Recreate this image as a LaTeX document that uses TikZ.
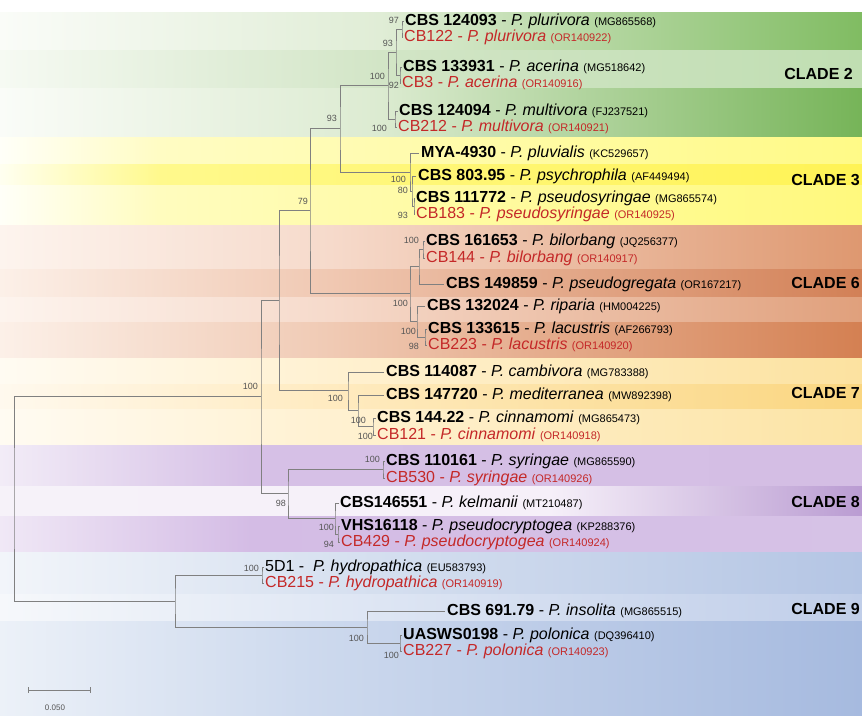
\documentclass[tikz,border=0pt]{standalone}
\usepackage{fontspec}
\setmainfont{Liberation Sans}
\definecolor{cbred}{RGB}{196,40,40}
\definecolor{treeg}{RGB}{128,128,128}
\definecolor{bsg}{RGB}{85,85,85}
% band colours
\definecolor{G1L}{RGB}{250,252,248}\definecolor{G1M}{RGB}{224,237,214}\definecolor{G1R}{RGB}{128,188,98}
\definecolor{G2L}{RGB}{246,250,243}\definecolor{G2M}{RGB}{210,229,198}\definecolor{G2R}{RGB}{192,222,178}
\definecolor{G3L}{RGB}{250,252,248}\definecolor{G3M}{RGB}{220,235,209}\definecolor{G3R}{RGB}{118,180,88}
\definecolor{Y1L}{RGB}{255,255,248}\definecolor{Y1M}{RGB}{255,252,195}\definecolor{Y1R}{RGB}{255,250,135}
\definecolor{Y2L}{RGB}{255,255,240}\definecolor{Y2M}{RGB}{255,249,140}\definecolor{Y2R}{RGB}{255,243,85}
\definecolor{Y3L}{RGB}{255,255,248}\definecolor{Y3M}{RGB}{255,252,190}\definecolor{Y3R}{RGB}{255,249,125}
\definecolor{O1L}{RGB}{253,244,238}\definecolor{O1M}{RGB}{246,218,203}\definecolor{O1R}{RGB}{222,152,112}
\definecolor{O2L}{RGB}{252,240,232}\definecolor{O2M}{RGB}{240,200,178}\definecolor{O2R}{RGB}{210,128,86}
\definecolor{O3L}{RGB}{253,244,238}\definecolor{O3M}{RGB}{246,218,203}\definecolor{O3R}{RGB}{224,160,124}
\definecolor{O4L}{RGB}{252,240,232}\definecolor{O4M}{RGB}{240,202,180}\definecolor{O4R}{RGB}{212,128,82}
\definecolor{S1L}{RGB}{255,251,242}\definecolor{S1M}{RGB}{255,242,212}\definecolor{S1R}{RGB}{252,226,160}
\definecolor{S2L}{RGB}{255,249,238}\definecolor{S2M}{RGB}{255,236,196}\definecolor{S2R}{RGB}{250,214,128}
\definecolor{S3L}{RGB}{255,251,242}\definecolor{S3M}{RGB}{255,242,212}\definecolor{S3R}{RGB}{252,228,165}
\definecolor{P1L}{RGB}{242,236,247}\definecolor{P1M}{RGB}{214,192,230}\definecolor{P1R}{RGB}{212,190,228}
\definecolor{P2L}{RGB}{246,242,249}\definecolor{P2M}{RGB}{246,240,249}\definecolor{P2R}{RGB}{186,156,210}
\definecolor{P3L}{RGB}{240,232,246}\definecolor{P3M}{RGB}{212,188,229}\definecolor{P3R}{RGB}{214,194,230}
\definecolor{B1L}{RGB}{242,245,250}\definecolor{B1M}{RGB}{218,227,241}\definecolor{B1R}{RGB}{180,197,228}
\definecolor{B2L}{RGB}{246,248,251}\definecolor{B2M}{RGB}{226,233,245}\definecolor{B2R}{RGB}{192,206,233}
\definecolor{B3L}{RGB}{236,241,248}\definecolor{B3M}{RGB}{206,218,238}\definecolor{B3R}{RGB}{166,186,223}
\newcommand{\accfont}{\fontsize{11}{12}\selectfont}
\newcommand{\taxb}[3]{\textbf{#1} - \textit{#2} {\accfont(#3)}}
\newcommand{\taxr}[3]{\textcolor{cbred}{#1 - \textit{#2} {\accfont(#3)}}}
\newcommand{\bandrow}[6]{%
  \shade[left color=#3,right color=#5] (0,#1) rectangle (#4+1,#2);
  \shade[left color=#5,right color=#6] (#4,#1) rectangle (862,#2);}
\begin{document}
\begin{tikzpicture}[x=1pt,y=-1pt,
  tip/.style={anchor=west,inner sep=0pt,font=\fontsize{16}{18}\selectfont,text height=12pt,text depth=4pt},
  bs/.style={anchor=east,inner sep=0pt,font=\fontsize{9}{10}\selectfont,text=bsg},
  clade/.style={anchor=east,inner sep=0pt,font=\bfseries\fontsize{16}{18}\selectfont},
  br/.style={draw=treeg,line width=0.9pt}]
\clip (0,0) rectangle (862,715);
\fill[white] (0,0) rectangle (862,715);
% ---- background bands
\bandrow{12}{50}{G1L}{380}{G1M}{G1R}
\bandrow{50}{88}{G2L}{380}{G2M}{G2R}
\bandrow{88}{137}{G3L}{380}{G3M}{G3R}
\bandrow{137}{164}{Y1L}{160}{Y1M}{Y1R}
\bandrow{164}{185}{Y2L}{160}{Y2M}{Y2R}
\bandrow{185}{225}{Y3L}{160}{Y3M}{Y3R}
\bandrow{225}{269}{O1L}{330}{O1M}{O1R}
\bandrow{269}{297}{O2L}{330}{O2M}{O2R}
\bandrow{297}{322}{O3L}{330}{O3M}{O3R}
\bandrow{322}{358}{O4L}{330}{O4M}{O4R}
\bandrow{358}{384}{S1L}{300}{S1M}{S1R}
\bandrow{384}{409}{S2L}{300}{S2M}{S2R}
\bandrow{409}{445}{S3L}{300}{S3M}{S3R}
\bandrow{445}{486}{P1L}{250}{P1M}{P1R}
\bandrow{486}{516}{P2L}{550}{P2M}{P2R}
\bandrow{516}{552}{P3L}{250}{P3M}{P3R}
\bandrow{552}{594}{B1L}{300}{B1M}{B1R}
\bandrow{594}{621}{B2L}{300}{B2M}{B2R}
\bandrow{621}{715}{B3L}{300}{B3M}{B3R}
% ---- tips
\node[tip] (t1) at (405,21) {\taxb{CBS 124093}{P. plurivora}{MG865568}};
\node[tip] (t2) at (404,37) {\taxr{CB122}{P. plurivora}{OR140922}};
\node[tip] (t3) at (403,67) {\taxb{CBS 133931}{P. acerina}{MG518642}};
\node[tip] (t4) at (402,83) {\taxr{CB3}{P. acerina}{OR140916}};
\node[tip] (t5) at (399,111) {\taxb{CBS 124094}{P. multivora}{FJ237521}};
\node[tip] (t6) at (398,127) {\taxr{CB212}{P. multivora}{OR140921}};
\node[tip] (t7) at (421,153) {\taxb{MYA-4930}{P. pluvialis}{KC529657}};
\node[tip] (t8) at (418,176) {\taxb{CBS 803.95}{P. psychrophila}{AF449494}};
\node[tip] (t9) at (416,198) {\taxb{CBS 111772}{P. pseudosyringae}{MG865574}};
\node[tip] (t10) at (416,214) {\taxr{CB183}{P. pseudosyringae}{OR140925}};
\node[tip] (t11) at (426,241) {\taxb{CBS 161653}{P. bilorbang}{JQ256377}};
\node[tip] (t12) at (426,258) {\taxr{CB144}{P. bilorbang}{OR140917}};
\node[tip] (t13) at (446,284) {\taxb{CBS 149859}{P. pseudogregata}{OR167217}};
\node[tip] (t14) at (427,306) {\taxb{CBS 132024}{P. riparia}{HM004225}};
\node[tip] (t15) at (428,329) {\taxb{CBS 133615}{P. lacustris}{AF266793}};
\node[tip] (t16) at (428,345) {\taxr{CB223}{P. lacustris}{OR140920}};
\node[tip] (t17) at (386,372) {\taxb{CBS 114087}{P. cambivora}{MG783388}};
\node[tip] (t18) at (386,395) {\taxb{CBS 147720}{P. mediterranea}{MW892398}};
\node[tip] (t19) at (377,418) {\taxb{CBS 144.22}{P. cinnamomi}{MG865473}};
\node[tip] (t20) at (377,435) {\taxr{CB121}{P. cinnamomi}{OR140918}};
\node[tip] (t21) at (386,461) {\taxb{CBS 110161}{P. syringae}{MG865590}};
\node[tip] (t22) at (386,478) {\taxr{CB530}{P. syringae}{OR140926}};
\node[tip] (t23) at (340,503) {\taxb{CBS146551}{P. kelmanii}{MT210487}};
\node[tip] (t24) at (341,526) {\taxb{VHS16118}{P. pseudocryptogea}{KP288376}};
\node[tip] (t25) at (341,542) {\taxr{CB429}{P. pseudocryptogea}{OR140924}};
\node[tip] (t26) at (265,567) {5D1 - \ \textit{P. hydropathica} {\accfont(EU583793)}};
\node[tip] (t27) at (265,583) {\taxr{CB215}{P. hydropathica}{OR140919}};
\node[tip] (t28) at (447,611) {\taxb{CBS 691.79}{P. insolita}{MG865515}};
\node[tip] (t29) at (403,635) {\taxb{UASWS0198}{P. polonica}{DQ396410}};
\node[tip] (t30) at (403,651) {\taxr{CB227}{P. polonica}{OR140923}};
% ---- internal nodes
\coordinate (Pl) at (402,29);
\coordinate (Ac) at (400,75);
\coordinate (I) at (396,52);
\coordinate (H) at (395,119);
\coordinate (F) at (388,85);
\coordinate (Ps) at (414,206);
\coordinate (G2) at (412,191);
\coordinate (G) at (410,172);
\coordinate (E) at (340,128);
\coordinate (Bi) at (423,249);
\coordinate (K) at (419,266);
\coordinate (La) at (425,337);
\coordinate (L) at (417,321);
\coordinate (C6) at (410,293);
\coordinate (D) at (310,210);
\coordinate (T) at (373,426);
\coordinate (S) at (358,410);
\coordinate (M) at (348,390);
\coordinate (B) at (279,300);
\coordinate (Sy) at (383,469);
\coordinate (Pc) at (338,534);
\coordinate (O) at (335,518);
\coordinate (N) at (288,493);
\coordinate (A) at (261,396);
\coordinate (Hy) at (262,575);
\coordinate (Po) at (400,643);
\coordinate (R) at (367,627);
\coordinate (Q) at (175,601);
\coordinate (Root) at (14,498);
% ---- branches
\draw[br] ([xshift=-1pt]t1.west) -| (Pl) |- ([xshift=-1pt]t2.west);
\draw[br] ([xshift=-1pt]t3.west) -| (Ac) |- ([xshift=-1pt]t4.west);
\draw[br] (Pl) -| (I) |- (Ac);
\draw[br] ([xshift=-1pt]t5.west) -| (H) |- ([xshift=-1pt]t6.west);
\draw[br] (I) -| (F) |- (H);
\draw[br] ([xshift=-1pt]t9.west) -| (Ps) |- ([xshift=-1pt]t10.west);
\draw[br] ([xshift=-2pt]t8.west) -| (G2) |- (Ps);
\draw[br] ([xshift=-2pt]t7.west) -| (G) |- (G2);
\draw[br] (F) -| (E) |- (G);
\draw[br] ([xshift=-1pt]t11.west) -| (Bi) |- ([xshift=-1pt]t12.west);
\draw[br] (Bi) -| (K) |- ([xshift=-2pt]t13.west);
\draw[br] ([xshift=-1pt]t15.west) -| (La) |- ([xshift=-1pt]t16.west);
\draw[br] ([xshift=-2pt]t14.west) -| (L) |- (La);
\draw[br] (K) -| (C6) |- (L);
\draw[br] (E) -| (D) |- (C6);
\draw[br] ([xshift=-1pt]t19.west) -| (T) |- ([xshift=-1pt]t20.west);
\draw[br] ([xshift=-2pt]t18.west) -| (S) |- (T);
\draw[br] ([xshift=-2pt]t17.west) -| (M) |- (S);
\draw[br] (D) -| (B) |- (M);
\draw[br] ([xshift=-1pt]t21.west) -| (Sy) |- ([xshift=-1pt]t22.west);
\draw[br] ([xshift=-1pt]t24.west) -| (Pc) |- ([xshift=-1pt]t25.west);
\draw[br] ([xshift=-1pt]t23.west) -| (O) |- (Pc);
\draw[br] (Sy) -| (N) |- (O);
\draw[br] (B) -| (A) |- (N);
\draw[br] ([xshift=-1pt]t26.west) -| (Hy) |- ([xshift=-1pt]t27.west);
\draw[br] ([xshift=-1pt]t29.west) -| (Po) |- ([xshift=-1pt]t30.west);
\draw[br] ([xshift=-2pt]t28.west) -| (R) |- (Po);
\draw[br] (Hy) -| (Q) |- (R);
\draw[br] (A) -| (Root) |- (Q);
% ---- bootstrap values
\node[bs] (b1) at (399,20) {97};
\node[bs] (b2) at (393,43) {93};
\node[bs] (b3) at (385,76) {100};
\node[bs] (b4) at (399,85) {92};
\node[bs] (b5) at (337,118) {93};
\node[bs] (b6) at (387,128) {100};
\node[bs] (b7) at (406,179) {100};
\node[bs] (b8) at (408,190) {80};
\node[bs] (b9) at (408,215) {93};
\node[bs] (b10) at (308,201) {79};
\node[bs] (b11) at (419,240) {100};
\node[bs] (b12) at (408,303) {100};
\node[bs] (b13) at (416,331) {100};
\node[bs] (b14) at (419,346) {98};
\node[bs] (b15) at (258,386) {100};
\node[bs] (b16) at (343,398) {100};
\node[bs] (b17) at (366,420) {100};
\node[bs] (b18) at (373,436) {100};
\node[bs] (b19) at (380,459) {100};
\node[bs] (b20) at (286,503) {98};
\node[bs] (b21) at (334,527) {100};
\node[bs] (b22) at (334,544) {94};
\node[bs] (b23) at (259,568) {100};
\node[bs] (b24) at (364,638) {100};
\node[bs] (b25) at (399,655) {100};
% ---- clade labels
\node[clade] (c2) at (853,74) {CLADE 2};
\node[clade] (c3) at (860,180) {CLADE 3};
\node[clade] (c6) at (860,283) {CLADE 6};
\node[clade] (c7) at (860,393) {CLADE 7};
\node[clade] (c8) at (860,502) {CLADE 8};
\node[clade] (c9) at (860,609) {CLADE 9};
% ---- scale bar
\coordinate (sb1) at (28,690);
\coordinate (sb2) at (90,690);
\draw[br] (sb1) -- (sb2);
\draw[br] ([yshift=3pt]sb1) -- ([yshift=-3pt]sb1);
\draw[br] ([yshift=3pt]sb2) -- ([yshift=-3pt]sb2);
\node[inner sep=0pt,font=\fontsize{8}{9}\selectfont,text=bsg] (sbl) at (55,708) {0.050};
\end{tikzpicture}
\end{document}
